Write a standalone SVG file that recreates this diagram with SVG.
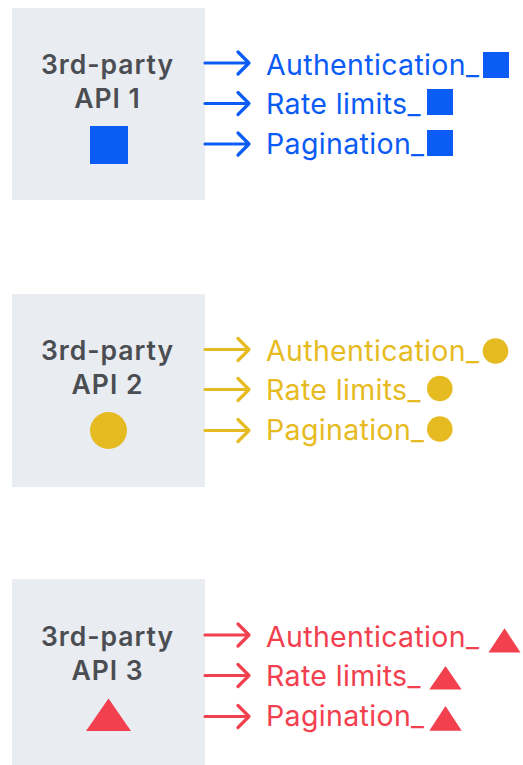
<svg xmlns="http://www.w3.org/2000/svg" width="523" height="765" viewBox="0 0 523 765">
<style>
.box{fill:#E9ECF1}
.title{font-family:Inter,"Liberation Sans",sans-serif;font-weight:600;font-size:26.5px;letter-spacing:1px;fill:#4A4E53;text-anchor:middle}
.lbl{font-family:Inter,"Liberation Sans",sans-serif;font-weight:400;font-size:28.5px;letter-spacing:0.35px}
.arr{fill:none;stroke-width:3.2;stroke-linecap:round;stroke-linejoin:round}
.blue{fill:#0B5CF5}.yellow{fill:#E6BB22}.red{fill:#F2404F}
.sb{stroke:#0B5CF5}.sy{stroke:#E6BB22}.sr{stroke:#F2404F}
</style>
<rect width="523" height="765" fill="#FFFFFF"/>
<g id="api1">
<rect class="box" x="12" y="8" width="193" height="192"/>
<text class="title" x="107.5" y="74">3rd-party</text>
<text class="title" x="107.5" y="108">API 1</text>
<rect class="blue" x="90" y="126" width="38" height="38"/>
</g>
<g id="api2">
<rect class="box" x="12" y="294" width="193" height="193"/>
<text class="title" x="107.5" y="360">3rd-party</text>
<text class="title" x="107.5" y="394">API 2</text>
<circle class="yellow" cx="108.5" cy="430.5" r="18.5"/>
</g>
<g id="api3">
<rect class="box" x="12" y="579" width="193" height="186"/>
<text class="title" x="107.5" y="646">3rd-party</text>
<text class="title" x="107.5" y="680">API 3</text>
<polygon class="red" points="86,731 108.5,698.5 131,731"/>
</g>
<g id="labels1">
<text class="lbl blue" x="266" y="74.5">Authentication_</text>
<rect class="blue" x="483" y="52" width="26" height="26"/>
<text class="lbl blue" x="266" y="113.5">Rate limits_</text>
<rect class="blue" x="427" y="89" width="26" height="26"/>
<text class="lbl blue" x="266" y="154">Pagination_</text>
<rect class="blue" x="427" y="130" width="26" height="26"/>
</g>
<g id="labels2">
<text class="lbl yellow" x="266" y="360.5">Authentication_</text>
<circle class="yellow" cx="495.5" cy="351" r="12.8"/>
<text class="lbl yellow" x="266" y="399.5">Rate limits_</text>
<circle class="yellow" cx="439.8" cy="388.5" r="12.8"/>
<text class="lbl yellow" x="266" y="440">Pagination_</text>
<circle class="yellow" cx="439.8" cy="429" r="12.8"/>
</g>
<g id="labels3">
<text class="lbl red" x="266" y="646.5">Authentication_</text>
<polygon class="red" points="488.5,652.5 504.5,628.3 520.5,652.5"/>
<text class="lbl red" x="266" y="685.5">Rate limits_</text>
<polygon class="red" points="429.3,689.5 445.5,666 461.7,689.5"/>
<text class="lbl red" x="266" y="726">Pagination_</text>
<polygon class="red" points="429.3,730.7 445.5,706 461.7,730.7"/>
</g>
<g id="connectors">
<path class="arr sb" d="M205,63H249M238,52L249,63L238,74"/>
<path class="arr sb" d="M205,103.5H249M238,92.5L249,103.5L238,114.5"/>
<path class="arr sb" d="M205,144H249M238,133L249,144L238,155"/>
<path class="arr sy" d="M205,349.5H249M238,338.5L249,349.5L238,360.5"/>
<path class="arr sy" d="M205,389.5H249M238,378.5L249,389.5L238,400.5"/>
<path class="arr sy" d="M205,430.5H249M238,419.5L249,430.5L238,441.5"/>
<path class="arr sr" d="M205,635H249M238,624L249,635L238,646"/>
<path class="arr sr" d="M205,675.5H249M238,664.5L249,675.5L238,686.5"/>
<path class="arr sr" d="M205,716.5H249M238,705.5L249,716.5L238,727.5"/>
</g>
</svg>
